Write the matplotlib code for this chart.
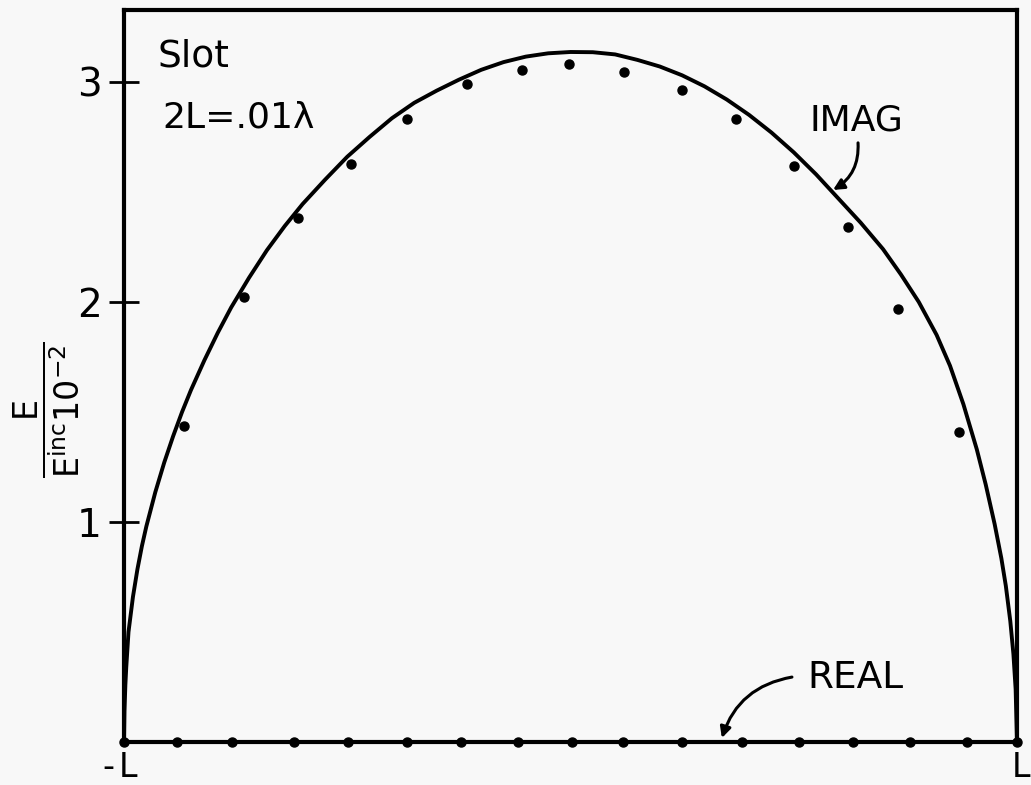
""" Slot field plot: imaginary and real part of E/Einc along the slot 2L=.01 wavelength """

import matplotlib
matplotlib.use("Agg")
from matplotlib import pyplot as plt

# solid IMAG curve (x in units of L)
curve_x = [-1.0, -0.999, -0.997, -0.995, -0.99, -0.98, -0.97, -0.96, -0.95, -0.93,
           -0.91, -0.89, -0.87, -0.85, -0.82, -0.79, -0.76, -0.72, -0.68, -0.64,
           -0.60, -0.55, -0.50, -0.45, -0.40, -0.35, -0.30, -0.25, -0.20, -0.15,
           -0.10, -0.05, 0.0, 0.05, 0.10, 0.15, 0.20, 0.25, 0.30, 0.35,
           0.40, 0.45, 0.50, 0.55, 0.60, 0.65, 0.70, 0.74, 0.78, 0.82,
           0.85, 0.88, 0.91, 0.93, 0.95, 0.965, 0.975, 0.985, 0.992, 0.997, 1.0]
curve_y = [0.0, 0.14, 0.26, 0.34, 0.50, 0.66, 0.785, 0.89, 0.98, 1.135,
           1.27, 1.39, 1.50, 1.60, 1.735, 1.86, 1.975, 2.11, 2.235, 2.345,
           2.445, 2.555, 2.66, 2.75, 2.835, 2.905, 2.96, 3.01, 3.055, 3.09,
           3.115, 3.13, 3.136, 3.135, 3.125, 3.10, 3.07, 3.03, 2.98, 2.92,
           2.85, 2.77, 2.68, 2.58, 2.47, 2.36, 2.24, 2.125, 2.00, 1.85,
           1.71, 1.535, 1.33, 1.17, 0.99, 0.835, 0.71, 0.55, 0.40, 0.24, 0.0]

# IMAG dots
imag_x = [-0.8656, -0.7312, -0.6103, -0.4916, -0.3662, -0.2318, -0.1086, -0.0034,
          0.1198, 0.2497, 0.3707, 0.5006, 0.6226, 0.7335, 0.8701]
imag_y = [1.436, 2.023, 2.382, 2.627, 2.832, 2.991, 3.055, 3.082,
          3.045, 2.964, 2.832, 2.618, 2.341, 1.968, 1.409]

# REAL dots (all on zero)
real_x = [-1.0, -0.881, -0.758, -0.619, -0.498, -0.366, -0.245, -0.118, 0.003,
          0.118, 0.250, 0.384, 0.512, 0.633, 0.761, 0.888, 1.0]
real_y = [0.0] * len(real_x)

y_ticks = [1, 2, 3]
y_tick_labels = ["1", "2", "3"]

plt.rcParams["font.family"] = ["DejaVu Sans"]
plt.rcParams["mathtext.default"] = "regular"

fig = plt.figure(figsize=(10.31, 7.85), dpi=100, facecolor="#f8f8f8")
ax = fig.add_axes([0.1203, 0.0548, 0.8661, 0.9325])
ax.set_facecolor("#f8f8f8")

ax.plot(curve_x, curve_y, color="black", lw=2.8, solid_capstyle="round", solid_joinstyle="round")
ax.plot(imag_x, imag_y, "o", color="black", ms=6.5)
ax.plot(real_x, real_y, "-o", color="black", lw=2.8, ms=6.5, clip_on=False, zorder=5)

ax.set_xlim(-1, 1)
ax.set_ylim(0, 3.327)
ax.set_xticks([])
ax.set_yticks(y_ticks, y_tick_labels)
ax.tick_params(axis="y", direction="inout", length=22, width=2, labelsize=28, pad=5)
for s in ax.spines.values():
    s.set_linewidth(3)

# labels inside the box
ax.text(-0.924, 3.068, "Slot", fontsize=27, va="baseline", ha="left")
ax.text(-0.915, 2.791, "2L=.01λ", fontsize=26, va="baseline", ha="left")
ax.text(0.536, 2.78, "IMAG", fontsize=26, va="baseline", ha="left")
ax.text(0.530, 0.245, "REAL", fontsize=27, va="baseline", ha="left")

ax.annotate("", xy=(0.588, 2.509), xytext=(0.644, 2.723),
            arrowprops=dict(arrowstyle="-|>", color="black", lw=2.2, mutation_scale=16,
                            connectionstyle="arc3,rad=-0.3", shrinkA=0, shrinkB=0))
ax.annotate("", xy=(0.339, 0.018), xytext=(0.496, 0.295),
            arrowprops=dict(arrowstyle="-|>", color="black", lw=2.2, mutation_scale=16,
                            connectionstyle="arc3,rad=0.3", shrinkA=0, shrinkB=0))

# -L and L under the ends
ax.annotate("L", xy=(-1, 0), xycoords="data", xytext=(-3.8, -30), textcoords="offset points",
            fontsize=24, ha="left", va="bottom", annotation_clip=False)
ax.annotate("-", xy=(-1, 0), xycoords="data", xytext=(-7, -30), textcoords="offset points",
            fontsize=24, ha="right", va="bottom", annotation_clip=False)
ax.annotate("L", xy=(1, 0), xycoords="data", xytext=(9.5, -30), textcoords="offset points",
            fontsize=24, ha="right", va="bottom", annotation_clip=False)

# y axis label as a fraction
fig.text(0.045, 0.478, r"$\dfrac{E}{E^{inc}10^{-2}}$", rotation=90, fontsize=24,
         ha="center", va="center")

plt.savefig("out.png", dpi=100, facecolor=fig.get_facecolor())
